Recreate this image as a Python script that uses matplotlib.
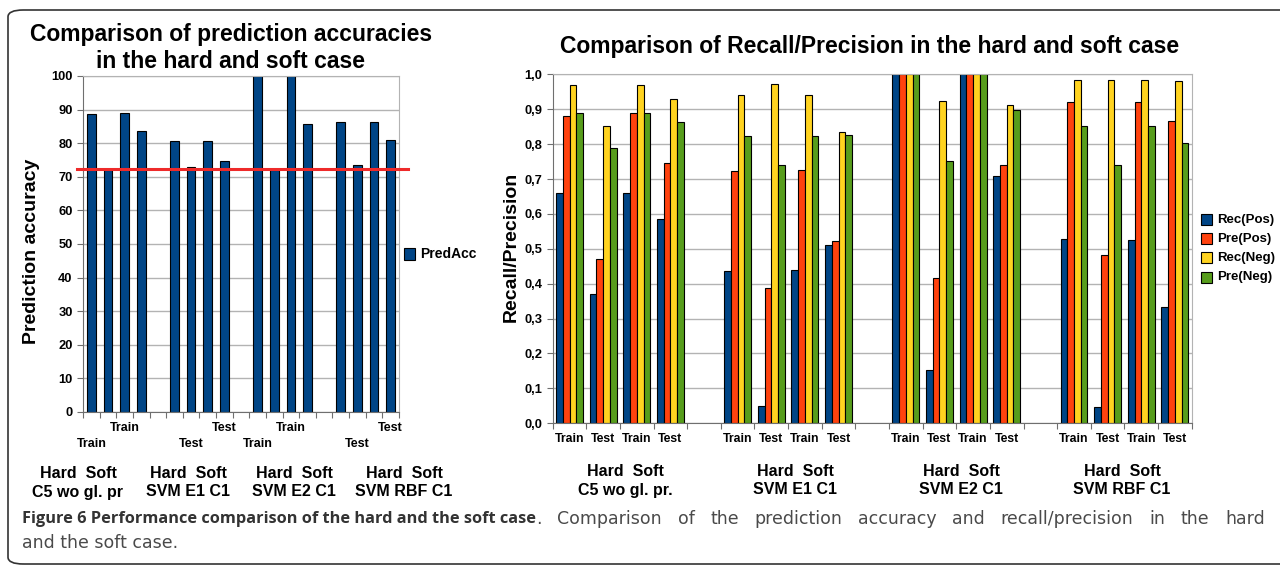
import matplotlib
matplotlib.use("Agg")
import matplotlib.pyplot as plt
import matplotlib.transforms as mtrans
from matplotlib.patches import FancyBboxPatch, Rectangle
from matplotlib.ticker import FuncFormatter
import numpy as np

plt.rcParams['font.family'] = ['Liberation Sans', 'DejaVu Sans']

# ---- data ----
groups = ["C5 wo gl. pr", "SVM E1 C1", "SVM E2 C1", "SVM RBF C1"]
groups_right = ["C5 wo gl. pr.", "SVM E1 C1", "SVM E2 C1", "SVM RBF C1"]
cases = ["Train", "Test", "Train", "Test"]
pred_acc = [88.6, 72.0, 88.9, 83.7,
            80.7, 72.8, 80.8, 74.8,
            100.0, 72.0, 100.0, 85.6,
            86.3, 73.5, 86.2, 80.9]
baseline = 72.2

series_names = ["Rec(Pos)", "Pre(Pos)", "Rec(Neg)", "Pre(Neg)"]
rec_pos = [0.661, 0.370, 0.661, 0.585,
           0.436, 0.050, 0.439, 0.511,
           1.000, 0.152, 1.000, 0.709,
           0.529, 0.046, 0.524, 0.332]
pre_pos = [0.880, 0.472, 0.888, 0.747,
           0.724, 0.387, 0.725, 0.523,
           1.000, 0.415, 1.000, 0.740,
           0.922, 0.482, 0.922, 0.865]
rec_neg = [0.968, 0.851, 0.970, 0.928,
           0.940, 0.972, 0.940, 0.834,
           1.000, 0.924, 1.000, 0.911,
           0.984, 0.983, 0.984, 0.981]
pre_neg = [0.888, 0.790, 0.890, 0.862,
           0.822, 0.740, 0.824, 0.825,
           1.000, 0.752, 1.000, 0.897,
           0.853, 0.741, 0.851, 0.804]
series = [rec_pos, pre_pos, rec_neg, pre_neg]
colors = ["#004586", "#ff420e", "#ffd320", "#579d1c"]

# slots: 4 bars per group, one empty slot between groups -> 19 slots
slots = np.array([g * 5 + j for g in range(4) for j in range(4)])
n_slots = 19

W, H = 1280, 569
fig = plt.figure(figsize=(12.8, 5.69), dpi=100)


def fx(px):
    return px / W


def fy(py):
    return 1 - py / H


# outer rounded frame
frame = FancyBboxPatch((fx(8), fy(564)), fx(1300) - fx(8), fy(10) - fy(564),
                       boxstyle="round,pad=0,rounding_size=0.012",
                       transform=fig.transFigure, fill=False,
                       edgecolor="#333333", linewidth=1.2, clip_on=False)
fig.patches.append(frame)

grid_c = "#b3b3b3"


def style_axes(ax):
    ax.set_axisbelow(True)
    ax.yaxis.grid(True, color=grid_c, linewidth=1)
    for s in ["top", "right"]:
        ax.spines[s].set_color(grid_c)
    for s in ["left", "bottom"]:
        ax.spines[s].set_color("#6f6f6f")
    ax.set_xlim(-0.5, n_slots - 0.5)
    ax.set_xticks(np.arange(-0.5, n_slots, 1.0))
    ax.set_xticklabels([])
    ax.tick_params(axis="x", length=4, color="#6f6f6f", direction="out")
    ax.tick_params(axis="y", length=4, color="#6f6f6f", direction="out",
                   labelsize=9.3)
    for lab in ax.get_yticklabels():
        lab.set_fontweight("bold")


# ---- left chart ----
ax1 = fig.add_axes([fx(83), fy(412), fx(399) - fx(83), fy(76) - fy(412)])
ax1.bar(slots, pred_acc, width=0.52, color=colors[0], edgecolor="black",
        linewidth=0.8, label="PredAcc")
ax1.axhline(baseline, xmin=-0.019, xmax=1.028, color="#ee2a2a", linewidth=2.2,
            clip_on=False, zorder=5)
ax1.set_ylim(0, 100)
ax1.set_yticks(range(0, 101, 10))
style_axes(ax1)
fig.text(fx(32), fy(251), "Prediction accuracy", rotation=90, ha="center",
         va="center", fontsize=14, fontweight="bold")
fig.text(fx(231), fy(35), "Comparison of prediction accuracies",
         ha="center", va="center", fontsize=16.5, fontweight="bold")
fig.text(fx(231), fy(62), "in the hard and soft case",
         ha="center", va="center", fontsize=16.5, fontweight="bold")

# staggered category labels (only every other slot shown)
tr1 = mtrans.blended_transform_factory(ax1.transData, fig.transFigure)
lab_left = {0: ("Train", 1), 2: ("Train", 0), 6: ("Test", 1), 8: ("Test", 0),
            10: ("Train", 1), 12: ("Train", 0), 16: ("Test", 1), 18: ("Test", 0)}
for s, (txt, row) in lab_left.items():
    ax1.text(s, fy(428 if row == 0 else 444), txt, transform=tr1,
             ha="center", va="center", fontsize=9, fontweight="bold")

for xc, name in zip([78, 188, 294, 404], groups):
    fig.text(fx(xc), fy(474), "Hard  Soft", ha="center", va="center",
             fontsize=11.5, fontweight="bold")
    fig.text(fx(xc), fy(492), name, ha="center", va="center",
             fontsize=11.5, fontweight="bold")

# legend left
fig.patches.append(Rectangle((fx(404), fy(260)), fx(11), fy(248) - fy(260),
                             transform=fig.transFigure, facecolor=colors[0],
                             edgecolor="black", linewidth=0.8))
fig.text(fx(420), fy(254), "PredAcc", ha="left", va="center",
         fontsize=10, fontweight="bold")

# ---- right chart ----
ax2 = fig.add_axes([fx(552.7), fy(423.3), fx(1191.7) - fx(552.7),
                    fy(74.3) - fy(423.3)])
bw = 0.2
for k, (vals, c, nm) in enumerate(zip(series, colors, series_names)):
    ax2.bar(slots + (k - 1.5) * bw, vals, width=bw, color=c,
            edgecolor="black", linewidth=0.8, label=nm)
ax2.set_ylim(0, 1.0)
ax2.set_yticks(np.arange(0, 1.01, 0.1))
ax2.yaxis.set_major_formatter(FuncFormatter(lambda v, p: f"{v:.1f}".replace(".", ",")))
style_axes(ax2)
fig.text(fx(511), fy(247), "Recall/Precision", rotation=90, ha="center",
         va="center", fontsize=14, fontweight="bold")
fig.text(fx(870), fy(46), "Comparison of Recall/Precision in the hard and soft case",
         ha="center", va="center", fontsize=16.5, fontweight="bold")

tr2 = mtrans.blended_transform_factory(ax2.transData, fig.transFigure)
for s, c in zip(slots, cases * 4):
    ax2.text(s, fy(439), c, transform=tr2, ha="center", va="center",
             fontsize=8.8, fontweight="bold")
for xc, name in zip([625, 795, 961, 1122], groups_right):
    fig.text(fx(xc), fy(472), "Hard  Soft", ha="center", va="center",
             fontsize=11.5, fontweight="bold")
    fig.text(fx(xc), fy(490), name, ha="center", va="center",
             fontsize=11.5, fontweight="bold")

# legend right
for i, (nm, c) in enumerate(zip(series_names, colors)):
    yc = 219.5 + i * 19.2
    fig.patches.append(Rectangle((fx(1201), fy(yc + 5.5)), fx(11), fy(yc - 5.5) - fy(yc + 5.5),
                                 transform=fig.transFigure, facecolor=c,
                                 edgecolor="black", linewidth=0.8))
    fig.text(fx(1217), fy(yc), nm, ha="left", va="center",
             fontsize=9.5, fontweight="bold")

# ---- caption (first line justified between x=22 and x=1265) ----
cap_bold = "Figure 6 Performance comparison of the hard and the soft case"
cap_rest = "Comparison of the prediction accuracy and recall/precision in the hard"
cap_line2 = "and the soft case."
cap_font = dict(fontsize=12.5, color="#4a4a4a", family="DejaVu Sans")
renderer = fig.canvas.get_renderer()
t1 = fig.text(fx(22), fy(519), cap_bold, ha="left", va="center", fontsize=11.8,
              fontweight="bold", color="#333333", family="Open Sans")
x_end = t1.get_window_extent(renderer).x1
dot = fig.text(x_end / W, fy(519), ".", ha="left", va="center", **cap_font)
x_start = dot.get_window_extent(renderer).x1
words = cap_rest.split()
wtexts = [fig.text(0, fy(519), w, ha="left", va="center", **cap_font)
          for w in words]
widths = [t.get_window_extent(renderer).width for t in wtexts]
gap = (1265 - x_start - sum(widths)) / len(words)
x = x_start + gap
for t, w in zip(wtexts, widths):
    t.set_x(x / W)
    x += w + gap
fig.text(fx(22), fy(543), cap_line2, ha="left", va="center", **cap_font)

fig.savefig("out.png", dpi=100)
